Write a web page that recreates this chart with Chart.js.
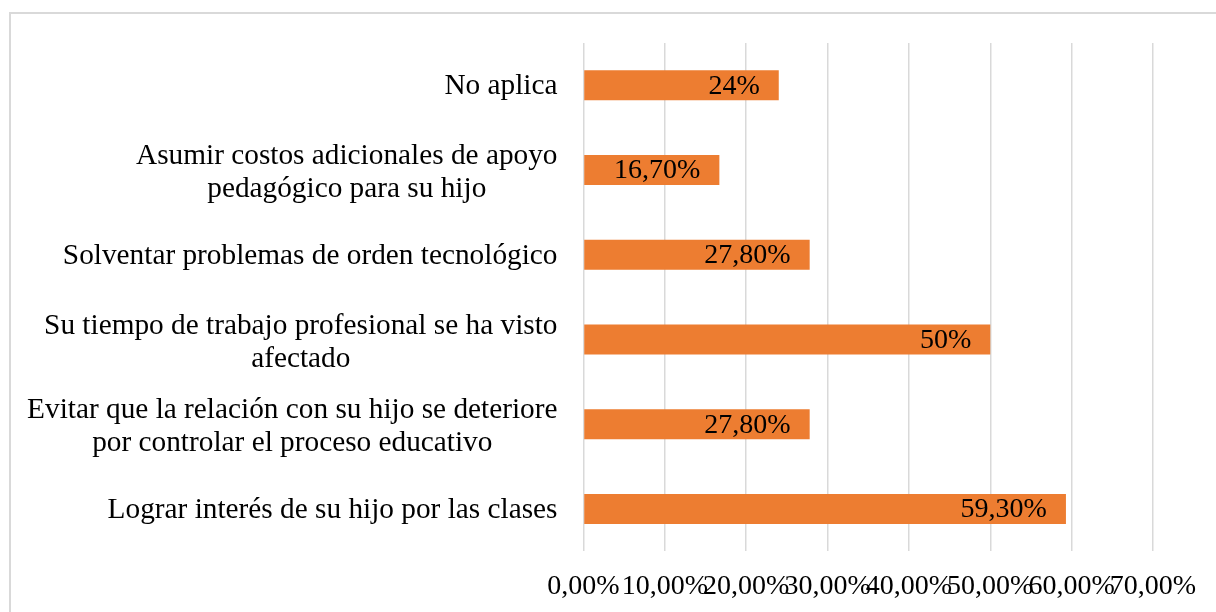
<!DOCTYPE html>
<html lang="es">
<head>
    <meta charset="UTF-8">
    <title>Dificultades</title>
    <script src="https://cdn.jsdelivr.net/npm/chart.js"></script>
    <style>
        html, body {
            margin: 0;
            padding: 0;
            overflow: hidden;
            background: #fff;
        }
        #frame {
            position: absolute;
            left: 9px;
            top: 12px;
            width: 1240px;
            height: 640px;
            border: 2px solid #d9d9d9;
        }
        #wrap {
            position: absolute;
            left: 0;
            top: 0;
            width: 1216px;
            height: 612px;
        }
    </style>
</head>
<body>
    <div id="frame"></div>
    <div id="wrap"><canvas id="chart" width="1216" height="612"></canvas></div>

    <script>
        const categories = [
            'No aplica',
            ['Asumir costos adicionales de apoyo', 'pedagógico para su hijo'],
            'Solventar problemas de orden tecnológico',
            ['Su tiempo de trabajo profesional se ha visto', 'afectado'],
            ['Evitar que la relación con su hijo se deteriore', 'por controlar el proceso educativo'],
            'Lograr interés de su hijo por las clases'
        ];
        const values = [24, 16.7, 27.8, 50, 27.8, 59.3];
        const tickMax = 70;
        const tickStep = 10;

        const fontFamily = "'Liberation Serif', 'Times New Roman', serif";
        const catFontSize = 29.3;
        const fontSize = 28;

        function pct(v) {
            if (Number.isInteger(v)) return v + '%';
            return v.toFixed(2).replace('.', ',') + '%';
        }

        // category labels: block right aligned, lines centered inside the block
        const catLabels = {
            id: 'catLabels',
            afterDraw(chart) {
                const ctx = chart.ctx;
                const y = chart.scales.y;
                const right = chart.chartArea.left - 26;
                const lh = 33;
                ctx.save();
                ctx.font = catFontSize + 'px ' + fontFamily;
                ctx.fillStyle = '#000';
                ctx.textAlign = 'center';
                ctx.textBaseline = 'middle';
                categories.forEach((c, i) => {
                    const lines = Array.isArray(c) ? c : [c];
                    const w = Math.max(...lines.map(l => ctx.measureText(l).width));
                    const cx = right - w / 2;
                    const cy = y.getPixelForTick(i) + (lines.length > 1 ? 3 : 1);
                    const top = cy - (lines.length - 1) * lh / 2;
                    lines.forEach((l, k) => ctx.fillText(l, cx, top + k * lh));
                });
                ctx.restore();
            }
        };

        // value labels inside the end of each bar
        const barLabels = {
            id: 'barLabels',
            afterDatasetsDraw(chart) {
                const ctx = chart.ctx;
                const meta = chart.getDatasetMeta(0);
                ctx.save();
                ctx.font = fontSize + 'px ' + fontFamily;
                ctx.fillStyle = '#000';
                ctx.textAlign = 'right';
                ctx.textBaseline = 'middle';
                meta.data.forEach((bar, i) => {
                    ctx.fillText(pct(values[i]), bar.x - 19, bar.y + 1);
                });
                ctx.restore();
            }
        };

        new Chart(document.getElementById('chart'), {
            type: 'bar',
            data: {
                labels: categories,
                datasets: [{
                    data: values,
                    backgroundColor: '#ED7D31',
                    borderWidth: 0,
                    barPercentage: 0.354,
                    categoryPercentage: 1
                }]
            },
            options: {
                indexAxis: 'y',
                responsive: false,
                animation: false,
                layout: {
                    padding: { top: 43, right: 63, bottom: -9, left: 0 }
                },
                plugins: {
                    legend: { display: false },
                    tooltip: { enabled: false }
                },
                scales: {
                    x: {
                        min: 0,
                        max: tickMax,
                        ticks: {
                            stepSize: tickStep,
                            autoSkip: false,
                            maxRotation: 0,
                            minRotation: 0,
                            padding: 18,
                            color: '#000',
                            font: { family: fontFamily, size: fontSize },
                            callback: v => v.toFixed(2).replace('.', ',') + '%'
                        },
                        grid: {
                            color: '#d9d9d9',
                            lineWidth: 1.5,
                            drawTicks: false
                        },
                        border: { display: false }
                    },
                    y: {
                        ticks: { display: false },
                        grid: { display: false },
                        border: { display: false },
                        afterFit(scale) {
                            scale.width = 583.5;
                        }
                    }
                }
            },
            plugins: [catLabels, barLabels]
        });
    </script>
</body>
</html>
